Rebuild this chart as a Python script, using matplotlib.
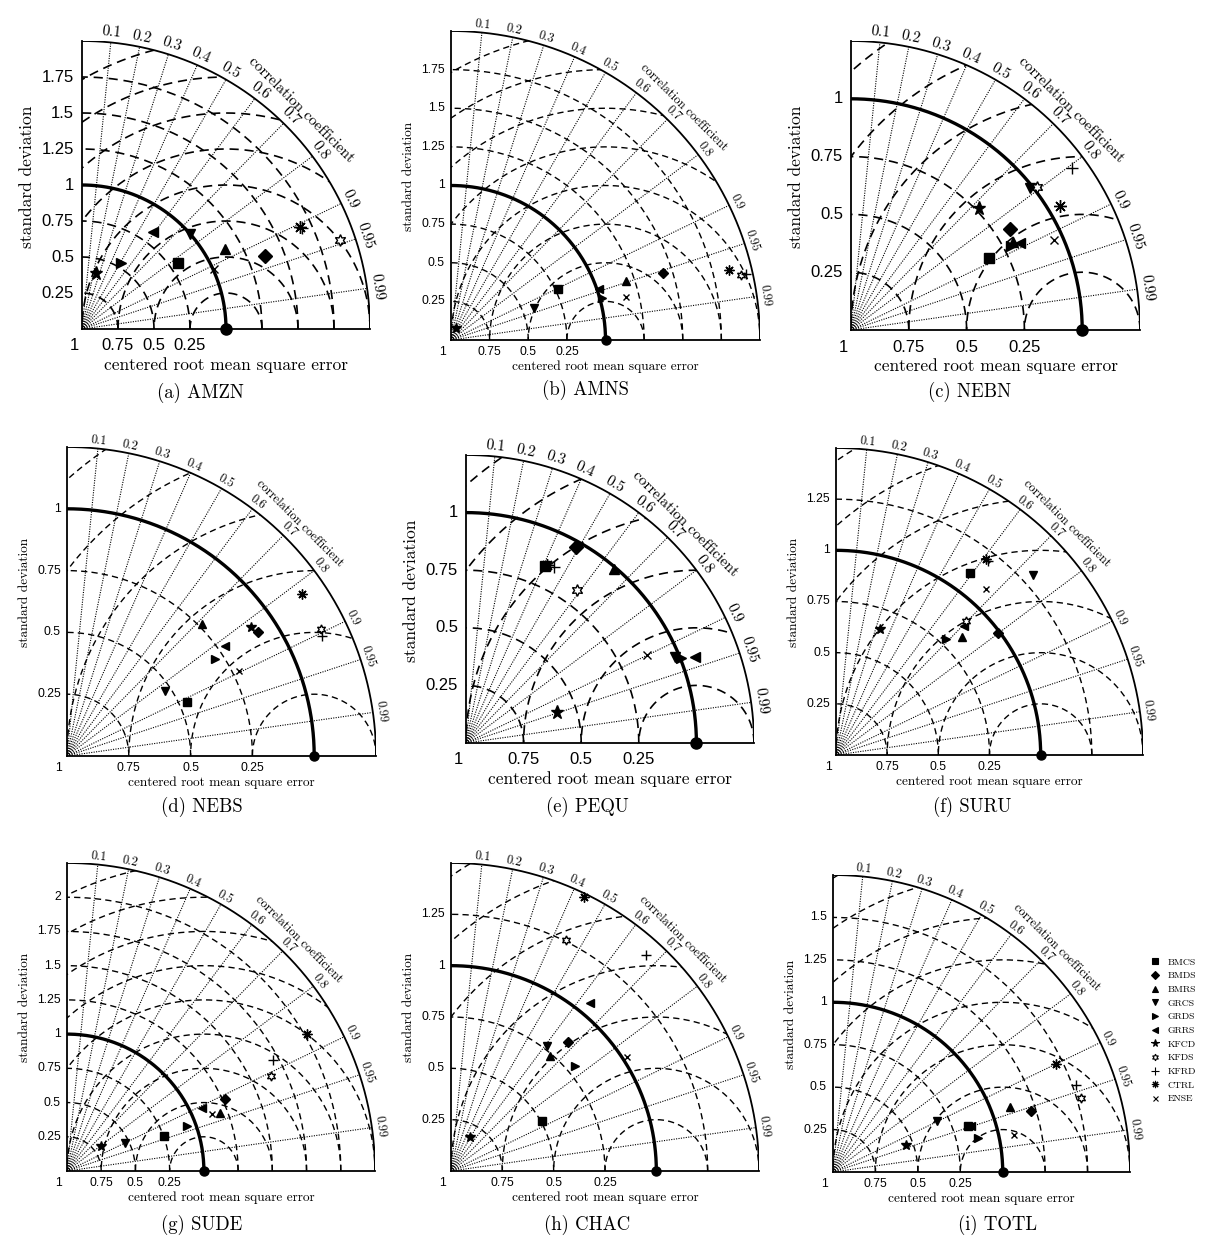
import numpy as np
import matplotlib
matplotlib.use("Agg")
import matplotlib.pyplot as plt
from matplotlib.patches import Wedge
from matplotlib.lines import Line2D

# ---- data: normalised standard deviation and correlation per model ----
models = ['BMCS', 'BMDS', 'BMRS', 'GRCS', 'GRDS', 'GRRS',
          'KFCD', 'KFDS', 'KFRD', 'CTRL', 'ENSE']
regions = ['AMZN', 'AMNS', 'NEBN', 'NEBS', 'PEQU', 'SURU', 'SUDE', 'CHAC', 'TOTL']

std_amzn = [0.813, 1.369, 1.137, 0.999, 0.533, 0.830, 0.403, 1.894, 1.683, 1.669, 1.011]
cor_amzn = [0.824, 0.928, 0.871, 0.751, 0.506, 0.590, 0.248, 0.945, 0.909, 0.905, 0.910]

std_amns = [0.765, 1.436, 1.192, 0.579, 1.017, 1.015, 0.082, 1.926, 1.958, 1.855, 1.164]
cor_amns = [0.902, 0.954, 0.948, 0.932, 0.964, 0.946, 0.370, 0.976, 0.976, 0.970, 0.971]

std_nebn = [0.672, 0.814, 0.797, 0.989, 0.779, 0.821, 0.764, 1.016, 1.186, 1.052, 0.960]
cor_nebn = [0.887, 0.844, 0.879, 0.785, 0.886, 0.889, 0.724, 0.792, 0.807, 0.861, 0.914]

std_nebs = [0.533, 0.922, 0.763, 0.476, 0.716, 0.778, 0.907, 1.148, 1.139, 1.156, 0.777]
cor_nebs = [0.911, 0.838, 0.714, 0.832, 0.837, 0.820, 0.819, 0.894, 0.904, 0.824, 0.896]

std_pequ = [0.843, 0.974, 0.992, 0.983, 1.005, 1.061, 0.415, 0.818, 0.853, 0.848, 0.873]
cor_pequ = [0.406, 0.488, 0.647, 0.925, 0.930, 0.936, 0.947, 0.587, 0.448, 0.413, 0.900]

std_suru = [1.106, 0.990, 0.845, 1.303, 0.782, 0.887, 0.651, 0.914, 1.207, 1.205, 1.093]
cor_suru = [0.593, 0.799, 0.730, 0.738, 0.689, 0.703, 0.329, 0.696, 0.617, 0.609, 0.671]

std_sude = [0.752, 1.265, 1.196, 0.474, 0.938, 1.091, 0.309, 1.642, 1.711, 2.016, 1.139]
cor_sude = [0.940, 0.910, 0.934, 0.900, 0.936, 0.906, 0.806, 0.906, 0.881, 0.868, 0.931]

std_chac = [0.506, 0.848, 0.742, 0.769, 0.791, 1.062, 0.190, 1.258, 1.418, 1.481, 1.020]
cor_chac = [0.875, 0.670, 0.653, 0.609, 0.761, 0.639, 0.478, 0.447, 0.669, 0.436, 0.840]

std_totl = [0.843, 1.218, 1.110, 0.681, 0.877, 0.854, 0.456, 1.528, 1.523, 1.458, 1.090]
cor_totl = [0.947, 0.956, 0.938, 0.898, 0.973, 0.949, 0.938, 0.958, 0.942, 0.900, 0.980]

all_std = [std_amzn, std_amns, std_nebn, std_nebs, std_pequ, std_suru, std_sude, std_chac, std_totl]
all_cor = [cor_amzn, cor_amns, cor_nebn, cor_nebs, cor_pequ, cor_suru, cor_sude, cor_chac, cor_totl]
std_max = [2.0, 2.0, 1.25, 1.25, 1.25, 1.5, 2.25, 1.5, 1.75]
corr_ticks = [0.1, 0.2, 0.3, 0.4, 0.5, 0.6, 0.7, 0.8, 0.9, 0.95, 0.99]
corr_tick_labels = ['0.1', '0.2', '0.3', '0.4', '0.5', '0.6', '0.7', '0.8', '0.9', '0.95', '0.99']

# ---- layout (pixels of the 1218x1245 page) ----
W, H = 1218, 1245
origins = [(82, 329), (451, 340), (851, 330), (67, 756), (466, 743), (836, 755),
           (67, 1171), (451, 1171), (833, 1172)]
quads = [288, 309, 289, 309, 288, 307, 308, 308, 297]
big = [True, False, True, False, True, False, False, False, False]
captions_at = [(200, 393), (585, 390), (970, 392), (202, 807), (587, 807), (972, 807),
               (202, 1225), (587, 1225), (998, 1225)]

marker_style = {
    'BMCS': dict(marker='s'),
    'BMDS': dict(marker='D'),
    'BMRS': dict(marker='^'),
    'GRCS': dict(marker='v'),
    'GRDS': dict(marker='>'),
    'GRRS': dict(marker='<'),
    'KFCD': dict(marker='*', scale=1.4),
    'KFDS': dict(marker=(6, 1, 0), mfc='white', scale=1.2),
    'KFRD': dict(marker='+', scale=1.3),
    'CTRL': dict(marker=(8, 2, 0), scale=1.3),
    'ENSE': dict(marker='x', scale=0.9),
}

SERIF = ['cmr10', 'DejaVu Serif']
SANS = ['Liberation Sans', 'DejaVu Sans']


def taylor_panel(fig, k):
    ox, oy = origins[k]
    q = quads[k]
    rmax = std_max[k]
    s = q / rmax  # pixels per unit
    ax = fig.add_axes([ox / W, (H - oy) / H, q / W, q / H])
    ax.set_xlim(0, rmax)
    ax.set_ylim(0, rmax)
    ax.axis('off')

    if big[k]:
        fs_tick, fs_lab, fs_cor, fs_cc, ms, dash, lw_d = 12, 12.5, 11, 11, 7, (5.5, 3.5), 1.2
        d_xt, d_xl, d_yl, d_yt, d_cor, d_cc = 17, 36, 55, 8, 10, 22
    else:
        fs_tick, fs_lab, fs_cor, fs_cc, ms, dash, lw_d = 8.8, 9.6, 9, 9, 5.5, (4.5, 3), 1.0
        d_xt, d_xl, d_yl, d_yt, d_cor, d_cc = 12, 27, 42, 6, 8, 20

    t = np.linspace(0, np.pi / 2, 300)
    clip = Wedge((0, 0), rmax, 0, 90, transform=ax.transData,
                 facecolor='none', edgecolor='none')
    ax.add_patch(clip)

    # standard deviation arcs
    for r in np.arange(0.25, rmax - 1e-6, 0.25):
        if abs(r - 1) < 1e-6:
            continue
        ax.plot(r * np.cos(t), r * np.sin(t), color='k', lw=lw_d, ls=(0, dash))

    # centered RMS error arcs around the reference point
    phi = np.linspace(0, np.pi, 600)
    for e in np.arange(0.25, 2.5, 0.25):
        ln, = ax.plot(1 + e * np.cos(phi), e * np.sin(phi), color='k', lw=lw_d, ls=(0, dash))
        ln.set_clip_path(clip)

    # correlation rays and labels
    for c, lab in zip(corr_ticks, corr_tick_labels):
        a = np.arccos(c)
        ax.plot([0, rmax * np.cos(a)], [0, rmax * np.sin(a)], color='k',
                lw=0.8, ls=(0, (1, 1.2)))
        rr = rmax + d_cor / s
        ax.text(rr * np.cos(a), rr * np.sin(a), lab, rotation=np.degrees(a) - 90,
                rotation_mode='anchor', ha='center', va='center',
                fontsize=fs_cor, family=SERIF, clip_on=False)
    rr = rmax + d_cc / s
    ax.text(rr * np.cos(np.pi / 4), rr * np.sin(np.pi / 4), 'correlation coefficient',
            rotation=-45, rotation_mode='anchor', ha='center', va='center',
            fontsize=fs_cc, family=SERIF, clip_on=False)

    # reference arc, outer arc, axes
    ax.plot(np.cos(t), np.sin(t), color='k', lw=2.4, solid_capstyle='butt')
    ax.plot(rmax * np.cos(t), rmax * np.sin(t), color='k', lw=1.3)
    ax.plot([0, 0], [0, rmax], color='k', lw=1.3, clip_on=False)
    ax.plot([0, rmax], [0, 0], color='k', lw=1.3, clip_on=False)
    ax.plot([1], [0], 'o', color='k', ms=ms + 1, clip_on=False, zorder=5)

    # y tick labels
    for v in np.arange(0.25, rmax - 1e-6, 0.25):
        ax.text(-d_yt / s, v, f'{v:g}', ha='right', va='center',
                fontsize=fs_tick, family=SANS)
    # x tick labels (distance from reference)
    for v, lab in zip([0, 0.25, 0.5, 0.75], ['1', '0.75', '0.5', '0.25']):
        ax.text(v - (8 / s if lab == '1' else 0), -d_xt / s, lab, ha='center', va='center',
                fontsize=fs_tick, family=SANS)
    ax.text(rmax / 2, -d_xl / s, 'centered root mean square error', ha='center',
            va='center', fontsize=fs_lab, family=SERIF)
    ax.text(-d_yl / s, 0.53 * rmax, 'standard deviation', rotation=90, ha='center',
            va='center', fontsize=fs_lab, family=SERIF)

    # model points
    std = np.array(all_std[k])
    cor = np.array(all_cor[k])
    xs = std * cor
    ys = std * np.sqrt(1 - cor ** 2)
    for i, m in enumerate(models):
        st = dict(marker_style[m])
        sc = st.pop('scale', 1.0)
        mfc = st.pop('mfc', 'k')
        ax.plot(xs[i], ys[i], linestyle='none', color='k', mfc=mfc, mec='k',
                ms=ms * sc, mew=1.0, clip_on=False, zorder=6, **st)

    cx, cy = captions_at[k]
    fig.text(cx / W, 1 - cy / H, f'({"abcdefghi"[k]}) {regions[k]}', ha='center',
             va='center', fontsize=13.5, family=SERIF)


fig = plt.figure(figsize=(W / 100, H / 100), dpi=100)
for k in range(9):
    taylor_panel(fig, k)

handles = []
for m in models:
    st = dict(marker_style[m])
    sc = st.pop('scale', 1.0)
    mfc = st.pop('mfc', 'k')
    handles.append(Line2D([], [], linestyle='none', color='k', mfc=mfc, mec='k',
                          ms=4 * sc, mew=0.8, **st))
fig.legend(handles, models, loc='upper left', bbox_to_anchor=(1150 / W, 1 - 958 / H),
           frameon=False, prop={'family': SERIF, 'size': 7}, handlelength=1.0,
           handletextpad=0.8, labelspacing=0.5, borderpad=0, borderaxespad=0)

fig.savefig('out.png', dpi=100)
